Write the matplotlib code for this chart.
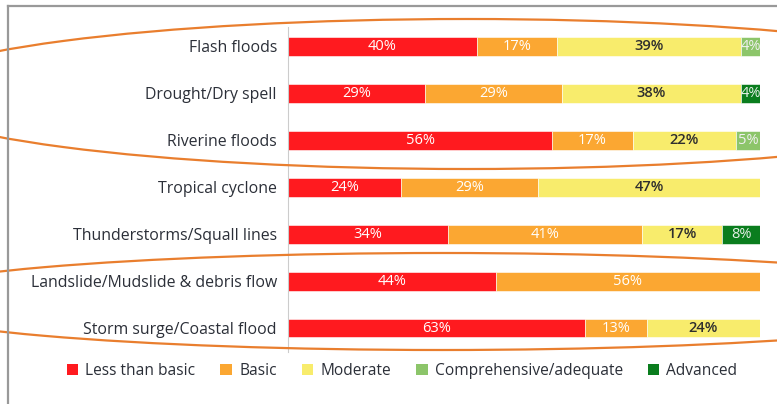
import matplotlib.pyplot as plt
from matplotlib.patches import Patch, Ellipse
from matplotlib.lines import Line2D

plt.rcParams['font.family'] = ['Open Sans', 'DejaVu Sans']

hazards = ['Flash floods', 'Drought/Dry spell', 'Riverine floods', 'Tropical cyclone',
           'Thunderstorms/Squall lines', 'Landslide/Mudslide & debris flow',
           'Storm surge/Coastal flood']
levels = ['Less than basic', 'Basic', 'Moderate', 'Comprehensive/adequate', 'Advanced']
less_basic = [40, 29, 56, 24, 34, 44, 63]
basic = [17, 29, 17, 29, 41, 56, 13]
moderate = [39, 38, 22, 47, 17, 0, 24]
comprehensive = [4, 0, 5, 0, 0, 0, 0]
advanced = [0, 4, 0, 0, 8, 0, 0]

series = [less_basic, basic, moderate, comprehensive, advanced]
colors = ['#FF1A1F', '#FBA732', '#F8EC6C', '#8CC56A', '#0A7D1E']
txt_colors = ['white', 'white', '#2E2E2E', '#F0F0F0', '#E8F0E8']
txt_weights = ['normal', 'normal', 'semibold', 'normal', 'normal']
textc = '#2B2F38'

W, H = 777, 404
fig = plt.figure(figsize=(W / 100, H / 100), dpi=100)
ax = fig.add_axes([288 / W, 1 - 352 / H, (760 - 288) / W, (352 - 27) / H])

y = list(range(len(hazards)))
left = [0] * len(hazards)
for vals, col, tc, tw in zip(series, colors, txt_colors, txt_weights):
    bars = ax.barh(y, vals, left=left, height=0.4, color=col, edgecolor='white', linewidth=0.4)
    labels = [f'{v}%' if v > 0 else '' for v in vals]
    ax.bar_label(bars, labels=labels, label_type='center', color=tc, fontsize=10.5,
                 fontweight=tw)
    left = [a + b for a, b in zip(left, vals)]

ax.set_xlim(0, 100)
ax.set_ylim(6.51, -0.415)
ax.set_yticks(y)
ax.set_yticklabels(hazards, fontsize=11.4, color=textc)
ax.tick_params(axis='y', length=0, pad=8)
ax.set_xticks([])
for s in ['top', 'right', 'bottom']:
    ax.spines[s].set_visible(False)
ax.spines['left'].set_color('#CCCCCC')
ax.spines['left'].set_linewidth(0.8)

handles = [Patch(facecolor=c, edgecolor='none') for c in colors]
fig.legend(handles, levels, loc='center', bbox_to_anchor=(402 / W, 1 - 371 / H),
           ncol=5, frameon=False, fontsize=11.2, handlelength=0.75, handleheight=0.75,
           handletextpad=0.45, columnspacing=1.6, labelcolor=textc)

# outer frame (left and top edges visible)
fig.add_artist(Line2D([8 / W, 8 / W], [0, 1 - 6 / H], color='#999999', lw=1.6))
fig.add_artist(Line2D([8 / W, 1], [1 - 6 / H, 1 - 6 / H], color='#999999', lw=1.6))

# hand-drawn style highlight ellipses
fig.add_artist(Ellipse((467 / W, 1 - 94 / H), 1142 / W, 150 / H, fill=False,
                       edgecolor='#E97E2E', lw=1.6))
fig.add_artist(Ellipse((442 / W, 1 - 301.5 / H), 1126 / W, 97 / H, fill=False,
                       edgecolor='#E97E2E', lw=1.6))

fig.savefig('out.png', dpi=100)
